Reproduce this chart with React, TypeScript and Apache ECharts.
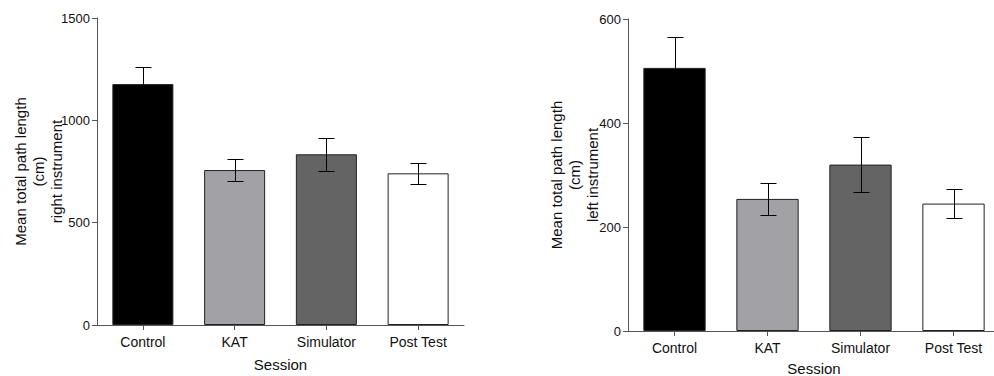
import React, { useEffect, useRef } from "react";
import * as echarts from "echarts";

const categories = ["Control", "KAT", "Simulator", "Post Test"];
const rightValues = [1177, 757, 834, 741];
const rightErrors = [85, 54, 82, 50];
const leftValues = [506, 254, 320, 245];
const leftErrors = [60, 30, 53, 28];
const barColors = ["#000000", "#a2a2a6", "#646464", "#ffffff"];
const rightTicks = { min: 0, max: 1500, interval: 500 };
const leftTicks = { min: 0, max: 600, interval: 200 };

const FONT = "'Liberation Sans', Arial, sans-serif";

function errRender(params: any, api: any) {
  const x = api.value(0);
  const v = api.value(1);
  const e = api.value(2);
  const top = api.coord([x, v + e]);
  const bot = api.coord([x, v - e]);
  const cx = Math.round(top[0]) + 0.5;
  const yt = Math.round(top[1]) + 0.5;
  const yb = Math.round(bot[1]) + 0.5;
  const hw = 8;
  const st = { stroke: "#000", lineWidth: 1 };
  return {
    type: "group",
    children: [
      { type: "line", shape: { x1: cx, y1: yt, x2: cx, y2: yb }, style: st },
      { type: "line", shape: { x1: cx - hw, y1: yt, x2: cx + hw, y2: yt }, style: st },
      { type: "line", shape: { x1: cx - hw, y1: yb, x2: cx + hw, y2: yb }, style: st },
    ],
  };
}

export default function App() {
  const ref = useRef<HTMLDivElement>(null);
  useEffect(() => {
    if (!ref.current) return;
    const chart = echarts.init(ref.current, null, { renderer: "svg" });
    const axisLine = { show: true, lineStyle: { color: "#555", width: 1 } };
    const xAxisBase = (gi: number, gap: number) => ({
      type: "category",
      gridIndex: gi,
      data: categories,
      name: "Session",
      nameLocation: "middle",
      nameGap: gap,
      nameMoveOverlap: false,
      nameTextStyle: { fontFamily: FONT, fontSize: 15, color: "#111", lineHeight: 16 },
      axisLine,
      axisTick: { show: true, alignWithLabel: true, length: 5, lineStyle: { color: "#555" } },
      axisLabel: { fontFamily: FONT, fontSize: 14, color: "#111", margin: 10, interval: 0 },
      splitLine: { show: false },
    });
    const yAxisBase = (gi: number, ticks: any, name: string, gap: number) => ({
      type: "value",
      gridIndex: gi,
      min: ticks.min,
      max: ticks.max,
      interval: ticks.interval,
      name,
      nameLocation: "middle",
      nameGap: gap,
      nameMoveOverlap: false,
      nameTextStyle: { fontFamily: FONT, fontSize: 15, color: "#111", lineHeight: 18, align: "center" },
      axisLine,
      axisTick: { show: true, length: 5, lineStyle: { color: "#555" } },
      axisLabel: {
        fontFamily: FONT,
        fontSize: 13,
        color: "#111",
        margin: 7,
        formatter: (v: number) => String(v),
      },
      splitLine: { show: false },
    });
    const barData = (vals: number[]) =>
      vals.map((v, i) => ({ value: v, itemStyle: { color: barColors[i] } }));
    const errData = (vals: number[], errs: number[]) => vals.map((v, i) => [i, v, errs[i]]);
    chart.setOption({
      animation: false,
      backgroundColor: "#fff",
      grid: [
        { left: 97, right: 530, top: 18, bottom: 51, outerBoundsMode: "none", containLabel: false },
        { left: 628, right: -6, top: 19, bottom: 45, outerBoundsMode: "none", containLabel: false },
      ],
      xAxis: [xAxisBase(0, 31), xAxisBase(1, 29)],
      yAxis: [
        yAxisBase(0, rightTicks, "Mean total path length\n(cm)\nright instrument", 32),
        yAxisBase(1, leftTicks, "Mean total path length\n(cm)\nleft instrument", 27),
      ],
      series: [
        {
          type: "bar",
          xAxisIndex: 0,
          yAxisIndex: 0,
          barWidth: "66.5%",
          data: barData(rightValues),
          itemStyle: { borderColor: "#222", borderWidth: 1 },
        },
        {
          type: "custom",
          xAxisIndex: 0,
          yAxisIndex: 0,
          renderItem: errRender,
          data: errData(rightValues, rightErrors),
          encode: { x: 0, y: 1 },
          z: 5,
        },
        {
          type: "bar",
          xAxisIndex: 1,
          yAxisIndex: 1,
          barWidth: "67%",
          data: barData(leftValues),
          itemStyle: { borderColor: "#222", borderWidth: 1 },
        },
        {
          type: "custom",
          xAxisIndex: 1,
          yAxisIndex: 1,
          renderItem: errRender,
          data: errData(leftValues, leftErrors),
          encode: { x: 0, y: 1 },
          z: 5,
        },
      ],
    });
    return () => chart.dispose();
  }, []);
  return (
    <div
      ref={ref}
      style={{ position: "absolute", left: 0, top: 0, width: 994, height: 376 }}
    />
  );
}
